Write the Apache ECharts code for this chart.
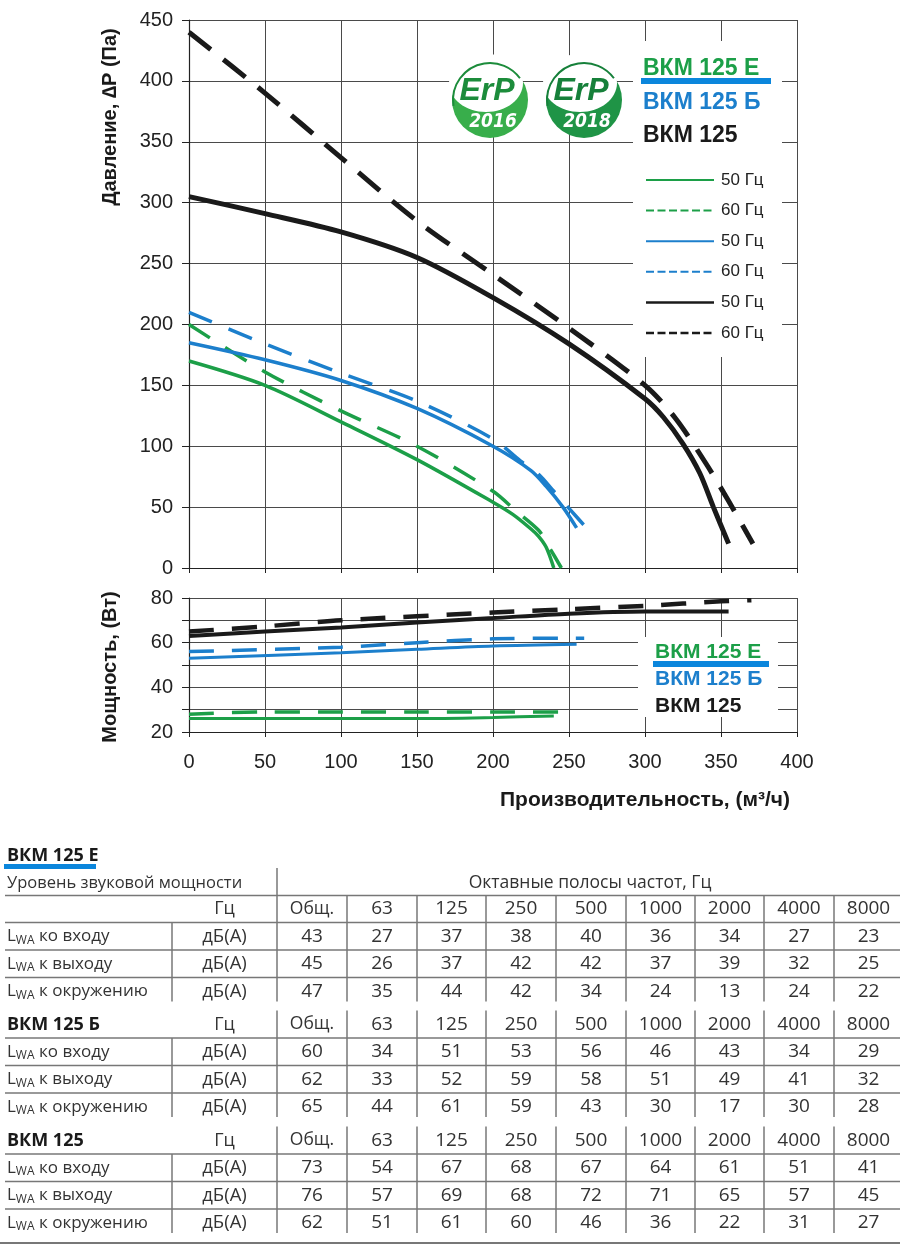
<!DOCTYPE html>
<html>
<head>
<meta charset="utf-8">
<script src="https://cdn.jsdelivr.net/npm/echarts@6/dist/echarts.min.js"></script>
<style>
  html, body { margin: 0; padding: 0; background: #fff; }
  #chart { width: 900px; height: 1249px; }
</style>
</head>
<body>
<div id="chart"></div>
<script>
// pressure curves, flow m3/h -> pressure Pa
const flowE50 = [0, 50, 100, 150, 200, 213, 225, 230, 235, 240];
const presE50 = [170, 150, 120, 89, 54, 44, 32, 26, 17, 0];
const flowE60 = [0, 50, 100, 150, 200, 215, 230, 237, 245];
const presE60 = [200, 161, 129, 100, 63, 47, 31, 17, 0];
const flowB50 = [0, 50, 100, 150, 200, 225, 235, 246, 255];
const presB50 = [185, 171, 154, 131, 100, 80, 67, 50, 33];
const flowB60 = [0, 50, 100, 150, 200, 218, 230, 240, 250, 260];
const presB60 = [210, 184, 160, 137, 106, 88, 77, 63, 49, 35];
const flow125_50 = [0, 50, 100, 150, 200, 250, 300, 312, 325, 336, 345, 355];
const pres125_50 = [305, 291, 276, 255, 222, 184, 139, 124, 102, 78, 50, 20];
const flow125_60 = [0, 50, 100, 150, 200, 250, 300, 320, 340, 355, 371];
const pres125_60 = [440, 390, 337, 285, 241, 197, 150, 123, 86, 55, 20];

// power curves, flow -> W
const pFlowE50 = [0, 100, 150, 200, 240];
const powE50 = [26, 26, 26, 26.5, 27.2];
const pFlowE60 = [0, 50, 100, 150, 200, 245];
const powE60 = [28, 29, 29, 29, 29, 29];
const pFlowB50 = [0, 100, 150, 200, 255];
const powB50 = [53, 55.5, 57, 58.5, 59.3];
const pFlowB60 = [0, 100, 150, 200, 260];
const powB60 = [56, 58, 60, 61.7, 62];
const pFlow125_50 = [0, 50, 100, 150, 200, 250, 300, 355];
const pow125_50 = [63, 65, 66.8, 69, 71, 73, 74, 74];
const pFlow125_60 = [0, 50, 100, 200, 250, 300, 350, 370];
const pow125_60 = [65, 67.3, 70, 73.5, 75, 76.5, 78.5, 79];

// sound tables
const bands = ['Общ.', '63', '125', '250', '500', '1000', '2000', '4000', '8000'];
const rowNames = ['ко входу', 'к выходу', 'к окружению'];
const models = ['ВКМ 125 Е', 'ВКМ 125 Б', 'ВКМ 125'];
const levelsE = [[43, 27, 37, 38, 40, 36, 34, 27, 23], [45, 26, 37, 42, 42, 37, 39, 32, 25], [47, 35, 44, 42, 34, 24, 13, 24, 22]];
const levelsB = [[60, 34, 51, 53, 56, 46, 43, 34, 29], [62, 33, 52, 59, 58, 51, 49, 41, 32], [65, 44, 61, 59, 43, 30, 17, 30, 28]];
const levels125 = [[73, 54, 67, 68, 67, 64, 61, 51, 41], [76, 57, 69, 68, 72, 71, 65, 57, 45], [62, 51, 61, 60, 46, 36, 22, 31, 27]];

const GREEN = '#1c9f48';
const BLUE = '#1c7fcc';
const BLACK = '#1a1a1a';
const FONT = 'Liberation Sans, Arial, sans-serif';
const TFONT = 'Open Sans, Noto Sans, sans-serif';

const zip = (xs, ys) => xs.map((x, i) => [x, ys[i]]);

function curve(xs, ys, color, width, dashed, idx) {
  return {
    type: 'line',
    xAxisIndex: idx,
    yAxisIndex: idx,
    data: zip(xs, ys),
    smooth: 0.3,
    showSymbol: false,
    symbol: 'none',
    lineStyle: {
      color: color,
      width: width,
      type: dashed ? (color === BLACK && idx === 0 ? [28, 16] : [25, 18]) : 'solid',
      cap: 'butt'
    },
    silent: true
  };
}

const myChart = echarts.init(document.getElementById('chart'));

const gridLine = { lineStyle: { color: '#4a4a4a', width: 1 } };
const axLine = { onZero: false, lineStyle: { color: '#222', width: 1.2 } };

let g = [];
// white boxes behind the legends
g.push({ type: 'rect', z: 1, shape: { x: 633, y: 41, width: 149, height: 316 }, style: { fill: '#fff' } });
g.push({ type: 'rect', z: 1, shape: { x: 638, y: 637, width: 140, height: 80 }, style: { fill: '#fff' } });

// ErP badges
[[490, '2016', '#38ae4b', '#1c8c3b'], [584, '2018', '#1f9446', '#16803a']].forEach(b => {
  g.push({ type: 'circle', z: 3, shape: { cx: b[0], cy: 100, r: 38 }, style: { fill: b[2] } });
  g.push({ type: 'ellipse', z: 3, shape: { cx: b[0] - 4, cy: 83, rx: 37, ry: 29 }, style: { fill: '#fff' } });
  g.push({ type: 'arc', z: 3, shape: { cx: b[0], cy: 100, r: 37, startAngle: Math.PI * 0.95, endAngle: Math.PI * 1.8 }, style: { stroke: b[3], lineWidth: 2, fill: null } });
  g.push({ type: 'text', z: 4, x: b[0] - 3, y: 91, style: { text: 'ErP', fill: b[3], fontSize: 32, fontWeight: 'bold', fontStyle: 'italic', fontFamily: FONT, textAlign: 'center', textVerticalAlign: 'middle' } });
  g.push({ type: 'text', z: 4, x: b[0] + 3, y: 122, style: { text: b[1], fill: '#fff', fontSize: 19, fontWeight: 'bold', fontStyle: 'italic', fontFamily: 'DejaVu Sans Condensed, ' + FONT, textAlign: 'center', textVerticalAlign: 'middle' } });
});

// model legend (top and power chart)
function modelLegend(x, y0, gap, size, barW) {
  g.push({ type: 'text', z: 4, x: x, y: y0, style: { text: models[0], fill: GREEN, fontSize: size, fontWeight: 'bold', fontFamily: FONT, textVerticalAlign: 'middle' } });
  g.push({ type: 'rect', z: 4, shape: { x: x - 2, y: y0 + 9, width: barW, height: 6 }, style: { fill: '#0b86dc' } });
  g.push({ type: 'text', z: 4, x: x, y: y0 + gap, style: { text: models[1], fill: BLUE, fontSize: size, fontWeight: 'bold', fontFamily: FONT, textVerticalAlign: 'middle' } });
  g.push({ type: 'text', z: 4, x: x, y: y0 + gap * 2, style: { text: models[2], fill: BLACK, fontSize: size, fontWeight: 'bold', fontFamily: FONT, textVerticalAlign: 'middle' } });
}
modelLegend(643, 69, 33.5, 23, 130);
modelLegend(655, 652, 27, 21, 116);

// line-style legend
const legendItems = [[GREEN, false, '50 Гц'], [GREEN, true, '60 Гц'], [BLUE, false, '50 Гц'], [BLUE, true, '60 Гц'], [BLACK, false, '50 Гц'], [BLACK, true, '60 Гц']];
legendItems.forEach((it, i) => {
  const y = 180 + i * 30.6;
  g.push({ type: 'line', z: 4, shape: { x1: 646, y1: y, x2: 714, y2: y }, style: { stroke: it[0], lineWidth: it[0] === BLACK ? 2.5 : 2, lineDash: it[1] ? [8, 3.5] : null } });
  g.push({ type: 'text', z: 4, x: 721, y: y, style: { text: it[2], fill: '#222', fontSize: 17, fontFamily: FONT, textVerticalAlign: 'middle' } });
});

// axis titles
g.push({ type: 'text', z: 4, x: 110, y: 117, rotation: Math.PI / 2, style: { text: 'Давление, ∆Р (Па)', fill: BLACK, fontSize: 20, fontWeight: 'bold', fontFamily: FONT, textAlign: 'center', textVerticalAlign: 'middle' } });
g.push({ type: 'text', z: 4, x: 110, y: 667, rotation: Math.PI / 2, style: { text: 'Мощность, (Вт)', fill: BLACK, fontSize: 20, fontWeight: 'bold', fontFamily: FONT, textAlign: 'center', textVerticalAlign: 'middle' } });
g.push({ type: 'text', z: 4, x: 645, y: 800, style: { text: 'Производительность, (м³/ч)', fill: BLACK, fontSize: 21, fontWeight: 'bold', fontFamily: FONT, textAlign: 'center', textVerticalAlign: 'middle' } });

// sound tables
const colX = [277, 347, 417, 486, 556, 626, 695, 764, 834, 903];
const unitX = 224.5;
const rowH = 27.5;
const headY = [909, 1024.5, 1140.5];
const TXT = '#333';
const LINE = '#777';
const NUM = 19;

function tText(x, y, text, opt) {
  g.push({ type: 'text', z: 4, x: x, y: y, style: Object.assign({ text: text, fill: TXT, fontSize: 16.5, fontFamily: TFONT, textAlign: 'center', textVerticalAlign: 'middle' }, opt || {}) });
}
function hLine(y, x1, w) {
  g.push({ type: 'line', z: 4, shape: { x1: x1 === undefined ? 5 : x1, y1: y, x2: 900, y2: y }, style: { stroke: LINE, lineWidth: w || 1.5 } });
}
function vLine(x, y1, y2) {
  g.push({ type: 'line', z: 4, shape: { x1: x, y1: y1, x2: x, y2: y2 }, style: { stroke: LINE, lineWidth: 1.5 } });
}

tText(7, 856, models[0], { textAlign: 'left', fontWeight: 'bold', fill: BLACK, fontSize: 18 });
g.push({ type: 'rect', z: 4, shape: { x: 4, y: 864, width: 92, height: 5 }, style: { fill: '#0b86dc' } });
tText(7, 883, 'Уровень звуковой мощности', { textAlign: 'left' });
tText((colX[0] + colX[9]) / 2, 883, 'Октавные полосы частот, Гц', { fontSize: 17.5 });
hLine(895.5);
vLine(colX[0], 868, 895.5);

[levelsE, levelsB, levels125].forEach((levels, t) => {
  const hy = headY[t];
  const bottom = hy + rowH * 3 + 10;
  if (t > 0) tText(7, hy, models[t], { textAlign: 'left', fontWeight: 'bold', fill: BLACK, fontSize: 18 });
  tText(unitX, hy, 'Гц', { fontSize: 18 });
  bands.forEach((b, c) => tText((colX[c] + colX[c + 1]) / 2, hy, b, { fontSize: c === 0 ? 17.5 : NUM }));
  hLine(hy + 13.5);
  colX.slice(0, 9).forEach(x => vLine(x, hy - 14, bottom));
  vLine(172, hy + 13.5, bottom);
  levels.forEach((row, r) => {
    const y = hy + rowH * (r + 1);
    g.push({ type: 'text', z: 4, x: 7, y: y, style: {
      text: '{l|L}{s|WA}{t| ' + rowNames[r] + '}',
      textVerticalAlign: 'middle', fill: TXT,
      rich: {
        l: { fontSize: 17, fontFamily: TFONT, fill: TXT, color: TXT },
        s: { fontSize: 12, fontFamily: TFONT, fill: TXT, color: TXT, padding: [8, 0, 0, 0] },
        t: { fontSize: 17, fontFamily: TFONT, fill: TXT, color: TXT }
      }
    } });
    tText(unitX, y, 'дБ(А)', { fontSize: 18.5 });
    row.forEach((v, c) => tText((colX[c] + colX[c + 1]) / 2, y, String(v), { fontSize: NUM }));
    if (r < 2) hLine(y + 13.5);
  });
});
hLine(1243, 0, 2.2);

myChart.setOption({
  animation: false,
  backgroundColor: '#fff',
  grid: [
    { left: 189, top: 20, width: 608, height: 548 },
    { left: 189, top: 598, width: 608, height: 134 }
  ],
  xAxis: [
    {
      gridIndex: 0, type: 'value', min: 0, max: 400, interval: 50,
      axisLine: axLine,
      axisTick: { show: true, length: 5, lineStyle: { color: '#222' } },
      axisLabel: { show: false },
      splitLine: gridLine
    },
    {
      gridIndex: 1, type: 'value', min: 0, max: 400, interval: 50,
      axisLine: axLine,
      axisTick: { show: true, length: 5, lineStyle: { color: '#222' } },
      axisLabel: { fontSize: 20, color: '#222', fontFamily: FONT, margin: 20 },
      splitLine: gridLine
    }
  ],
  yAxis: [
    {
      gridIndex: 0, type: 'value', min: 0, max: 450, interval: 50,
      axisLine: { show: true, onZero: false, lineStyle: { color: '#222', width: 1.2 } },
      axisTick: { show: true, length: 7, lineStyle: { color: '#222' } },
      axisLabel: { fontSize: 20, color: '#222', fontFamily: FONT, margin: 16 },
      splitLine: gridLine
    },
    {
      gridIndex: 1, type: 'value', min: 20, max: 80, interval: 10,
      axisLine: { show: true, onZero: false, lineStyle: { color: '#222', width: 1.2 } },
      axisTick: { show: true, length: 7, lineStyle: { color: '#222' } },
      axisLabel: { fontSize: 20, color: '#222', fontFamily: FONT, margin: 16, formatter: v => (v % 20 === 0 ? String(v) : '') },
      splitLine: gridLine
    }
  ],
  graphic: g,
  series: [
    curve(flowE50, presE50, GREEN, 3.5, false, 0),
    curve(flowE60, presE60, GREEN, 3.5, true, 0),
    curve(flowB50, presB50, BLUE, 3.5, false, 0),
    curve(flowB60, presB60, BLUE, 3.5, true, 0),
    curve(flow125_50, pres125_50, BLACK, 5, false, 0),
    curve(flow125_60, pres125_60, BLACK, 5, true, 0),
    curve(pFlowE50, powE50, GREEN, 3, false, 1),
    curve(pFlowE60, powE60, GREEN, 3.5, true, 1),
    curve(pFlowB50, powB50, BLUE, 3, false, 1),
    curve(pFlowB60, powB60, BLUE, 3.5, true, 1),
    curve(pFlow125_50, pow125_50, BLACK, 4, false, 1),
    curve(pFlow125_60, pow125_60, BLACK, 4.5, true, 1)
  ]
});
</script>
</body>
</html>
